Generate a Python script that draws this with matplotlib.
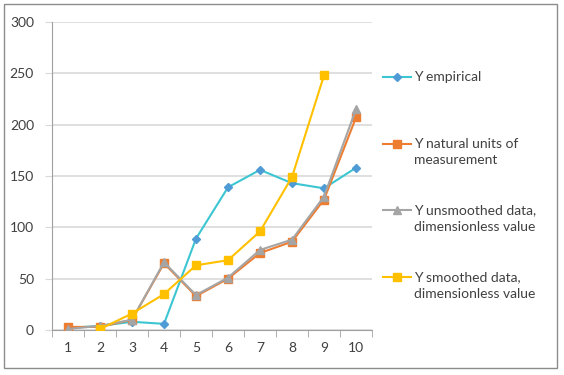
import matplotlib
matplotlib.use("Agg")
import matplotlib.pyplot as plt
from matplotlib.lines import Line2D
from matplotlib.patches import Rectangle

plt.rcParams['font.family'] = ['Lato', 'DejaVu Sans']

x = [1, 2, 3, 4, 5, 6, 7, 8, 9, 10]
x_labels = ['1', '2', '3', '4', '5', '6', '7', '8', '9', '10']
y_empirical = [2, 4, 8, 6, 89, 139, 156, 143, 138, 158]
y_natural = [3, 3, 10, 65, 33, 50, 75, 86, 127, 207]
y_unsmoothed = [1, 4, 10, 66, 34, 51, 78, 88, 130, 215]
x_smoothed = [2, 3, 4, 5, 6, 7, 8, 9]
y_smoothed = [1, 16, 35, 63, 68, 96, 149, 248]
labels = ['Y empirical', 'Y natural units of\nmeasurement',
          'Y unsmoothed data,\ndimensionless value',
          'Y smoothed data,\ndimensionless value']
y_ticks = [0, 50, 100, 150, 200, 250, 300]

W, H = 564, 375
fig = plt.figure(figsize=(W / 100, H / 100), dpi=100)
ax = fig.add_axes([52 / W, 1 - 330 / H, 320 / W, 308 / H])

cyan = '#3cc6d2'
blue = '#4f9bd6'
orange = '#ed7d31'
gray = '#a5a5a5'
yellow = '#ffc000'

ax.plot(x, y_empirical, color=cyan, lw=1.5, marker='D', ms=4.5,
        mfc=blue, mec=blue, zorder=3)
ax.plot(x, y_natural, color=orange, lw=1.5, marker='s', ms=5.5,
        mfc=orange, mec=orange, zorder=4)
ax.plot(x, y_unsmoothed, color=gray, lw=1.5, marker='^', ms=6,
        mfc=gray, mec=gray, zorder=5)
ax.plot(x_smoothed, y_smoothed, color=yellow, lw=1.5, marker='s', ms=6,
        mfc=yellow, mec=yellow, zorder=6)

ax.set_xlim(0.5, 10.5)
ax.set_ylim(0, 300)
ax.set_yticks(y_ticks)
ax.set_yticklabels([str(v) for v in y_ticks])
ax.set_xticks(x)
ax.set_xticklabels(x_labels)
ax.set_xticks([i + 0.5 for i in range(0, 11)], minor=True)
ax.tick_params(axis='x', which='major', length=0, pad=9, labelsize=10, colors='#404040')
ax.tick_params(axis='x', which='minor', length=5, color='#a0a0a0', direction='out')
ax.tick_params(axis='y', which='major', length=5, color='#d9d9d9', pad=8,
               labelsize=10, labelcolor='#404040')
ax.grid(axis='y', color='#d9d9d9', lw=1.2, zorder=0)
ax.set_axisbelow(True)
for s in ['top', 'right']:
    ax.spines[s].set_visible(False)
ax.spines['left'].set_color('#a0a0a0')
ax.spines['bottom'].set_color('#a0a0a0')

# legend drawn manually (Excel style: handle aligned with first line)
handles = [
    dict(color=cyan, marker='D', ms=4.5, mfc=blue, mec=blue),
    dict(color=orange, marker='s', ms=5.5, mfc=orange, mec=orange),
    dict(color=gray, marker='^', ms=6, mfc=gray, mec=gray),
    dict(color=yellow, marker='s', ms=6, mfc=yellow, mec=yellow),
]
ys = [77, 144, 210, 277]
for h, yy, lab in zip(handles, ys, labels):
    yf = 1 - yy / H
    ln = Line2D([383 / W, 411 / W], [yf, yf], transform=fig.transFigure,
                lw=1.5, color=h['color'])
    mk = Line2D([397 / W], [yf], transform=fig.transFigure, lw=0,
                marker=h['marker'], ms=h['ms'], mfc=h['mfc'], mec=h['mec'])
    fig.add_artist(ln)
    fig.add_artist(mk)
    fig.text(414 / W, 1 - (yy - 6) / H, lab, fontsize=10, color='#404040',
             va='top', ha='left', linespacing=1.45)

fig.add_artist(Rectangle((4 / W, 1 - 368 / H), 553 / W, 364 / H,
                         transform=fig.transFigure, fill=False,
                         ec='#8c8c8c', lw=1))

fig.savefig('out.png', dpi=100)
